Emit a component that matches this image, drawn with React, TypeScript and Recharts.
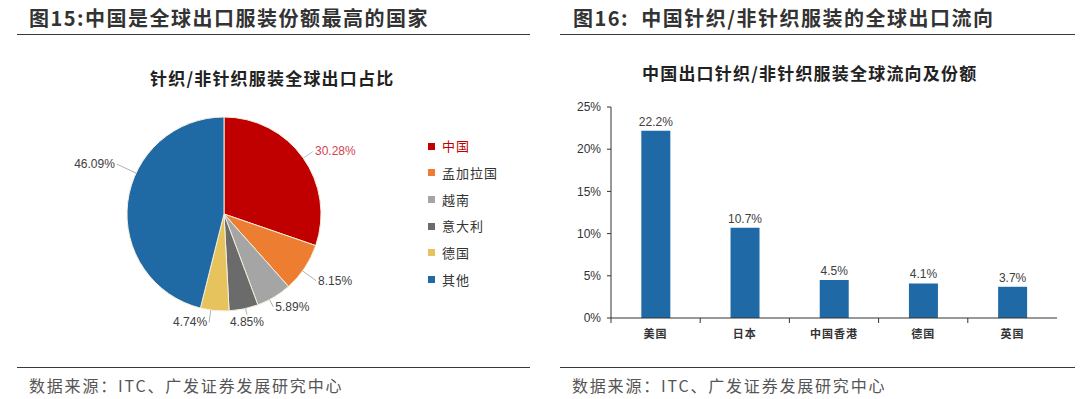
import React from 'react';
import { PieChart, Pie, Cell, BarChart, Bar, XAxis, YAxis, LabelList, Legend } from 'recharts';

// ---------- data ----------
const pieCountries = ['中国', '孟加拉国', '越南', '意大利', '德国', '其他'];
const pieShares = [30.28, 8.15, 5.89, 4.85, 4.74, 46.09];

const barDestinations = ['美国', '日本', '中国香港', '德国', '英国'];
const barShares = [22.2, 10.7, 4.5, 4.1, 3.7];
const yTicks = [0, 5, 10, 15, 20, 25];

const leftTitle = '图15:中国是全球出口服装份额最高的国家';
const rightTitle = '图16:  中国针织/非针织服装的全球出口流向';
const pieSubtitle = '针织/非针织服装全球出口占比';
const barSubtitle = '中国出口针织/非针织服装全球流向及份额';
const sourceNote = '数据来源：ITC、广发证券发展研究中心';

// ---------- styles ----------
const pieColors = ['#c00000', '#ed7d31', '#a5a5a5', '#6b6b6b', '#e6c35c', '#1f6aa5'];
const barColor = '#1f6aa6';
const textDark = '#333333';
const numFont = "'Liberation Sans', Arial, sans-serif";
const cjkFont = "'Noto Sans CJK SC', 'Noto Sans', sans-serif";

// label nudges (dx, dy, anchor) relative to radial position
const labelNudges: [number, number, 'start' | 'middle' | 'end'][] = [
  [-1, 3, 'start'],
  [0, 4, 'start'],
  [-7, -4, 'start'],
  [0, -3, 'middle'],
  [-6, -4, 'end'],
  [3, -36, 'end'],
];

const pieData = pieCountries.map((name, i) => ({ name, value: pieShares[i] }));
const barData = barDestinations.map((name, i) => ({ name, value: barShares[i] }));

const RAD = Math.PI / 180;

function renderPieLabel(props: any) {
  const { cx, cy, midAngle, outerRadius, index, value } = props;
  const r = outerRadius + 16;
  const [dx, dy, anchor] = labelNudges[index];
  const tx = cx + r * Math.cos(-midAngle * RAD) + dx;
  const ty = cy + r * Math.sin(-midAngle * RAD) + dy;
  let ex = tx;
  let ey = ty;
  if (anchor === 'start') ex = tx - 2;
  else if (anchor === 'end') ex = tx + 2;
  else ey = ty - 7;
  const vx = ex - cx;
  const vy = ey - cy;
  const d = Math.sqrt(vx * vx + vy * vy);
  const sx = cx + (vx / d) * outerRadius;
  const sy = cy + (vy / d) * outerRadius;
  const showLine = d - outerRadius > 4;
  return (
    <g>
      {showLine && (
        <line x1={sx} y1={sy} x2={ex} y2={ey} stroke={index === 0 ? '#8fc3d8' : '#9a9a9a'} strokeWidth={0.8} />
      )}
      <text
        x={tx}
        y={ty}
        textAnchor={anchor}
        dominantBaseline="central"
        fontFamily={numFont}
        fontSize={12}
        fill={index === 0 ? '#d0434f' : '#404040'}
      >
        {`${value.toFixed(2)}%`}
      </text>
    </g>
  );
}

function PieLegend() {
  return (
    <div style={{ width: 110 }}>
      {pieData.map((d, i) => (
        <div key={d.name} style={{ height: 26.67, display: 'flex', alignItems: 'center' }}>
          <span style={{ width: 7, height: 7, background: pieColors[i], display: 'inline-block', marginRight: 7 }} />
          <span
            style={{
              fontFamily: cjkFont,
              fontSize: 13,
              letterSpacing: 1,
              color: i === 0 ? '#c00000' : textDark,
              lineHeight: '14px',
            }}
          >
            {d.name}
          </span>
        </div>
      ))}
    </div>
  );
}

function XTick(props: any) {
  const { x, y, payload } = props;
  const half = typeof payload?.offset === 'number' && payload.offset > 0 ? payload.offset : 44.6;
  const axisY = y - 13;
  return (
    <g>
      <line x1={x - half} y1={axisY} x2={x - half} y2={axisY + 5} stroke="#333" strokeWidth={1} />
      <text
        x={x}
        y={y + 2}
        textAnchor="middle"
        dominantBaseline="central"
        fontFamily={cjkFont}
        fontSize={11}
        fontWeight={700}
        letterSpacing={1}
        fill={textDark}
      >
        {payload.value}
      </text>
    </g>
  );
}

const abs = (left: number, top: number, extra: React.CSSProperties = {}): React.CSSProperties => ({
  position: 'absolute',
  left,
  top,
  ...extra,
});

export default function App() {
  const titleStyle: React.CSSProperties = {
    fontFamily: cjkFont,
    fontSize: 20,
    fontWeight: 700,
    letterSpacing: 1.5,
    color: textDark,
    whiteSpace: 'pre',
    lineHeight: '24px',
  };
  const subStyle: React.CSSProperties = {
    fontFamily: cjkFont,
    fontSize: 17,
    fontWeight: 700,
    letterSpacing: 1.2,
    color: '#222',
    whiteSpace: 'pre',
    lineHeight: '20px',
  };
  const srcStyle: React.CSSProperties = {
    fontFamily: cjkFont,
    fontSize: 16,
    color: '#555',
    whiteSpace: 'pre',
    lineHeight: '18px',
    letterSpacing: 1.8,
  };
  const rule = (left: number, top: number, width: number): React.CSSProperties =>
    abs(left, top, { width, height: 1, background: '#3a3a3a' });

  return (
    <div style={abs(0, 0, { width: 1080, height: 399, background: '#ffffff', overflow: 'hidden' })}>
      {/* headers */}
      <div style={abs(29, 6, titleStyle)}>{leftTitle}</div>
      <div style={abs(573, 6, titleStyle)}>{rightTitle}</div>
      <div style={rule(17, 34, 513)} />
      <div style={rule(560, 34, 515)} />

      {/* subtitles */}
      <div style={abs(150, 68, subStyle)}>{pieSubtitle}</div>
      <div style={abs(642, 63, subStyle)}>{barSubtitle}</div>

      {/* pie chart */}
      <div style={abs(0, 0)}>
        <PieChart width={540} height={360} margin={{ top: 0, right: 0, bottom: 0, left: 0 }}>
          <Pie
            data={pieData}
            dataKey="value"
            nameKey="name"
            cx={224}
            cy={214}
            outerRadius={97}
            startAngle={90}
            endAngle={-270}
            stroke="#f4eedc"
            strokeWidth={1}
            isAnimationActive={false}
            label={renderPieLabel}
            labelLine={false}
          >
            {pieData.map((d, i) => (
              <Cell key={d.name} fill={pieColors[i]} />
            ))}
          </Pie>
          <Legend
            content={() => <PieLegend />}
            wrapperStyle={{ position: 'absolute', left: 428, top: 133, width: 110 }}
          />
        </PieChart>
      </div>

      {/* bar chart */}
      <div style={abs(540, 0)}>
        <BarChart
          width={540}
          height={360}
          data={barData}
          margin={{ top: 107, right: 23, left: 0, bottom: 12 }}
          barCategoryGap="34%"
        >
          <XAxis
            dataKey="name"
            type="category"
            axisLine={{ stroke: '#333', strokeWidth: 1 }}
            tickLine={false}
            tickSize={5}
            tickMargin={8}
            height={30}
            tick={<XTick />}
            interval={0}
          />
          <YAxis
            type="number"
            domain={[0, 25]}
            ticks={yTicks}
            interval={0}
            width={71}
            axisLine={{ stroke: '#333', strokeWidth: 1 }}
            tickLine={{ stroke: '#333' }}
            tickSize={4}
            tickMargin={6}
            tickFormatter={(v: number) => `${v}%`}
            tick={{ fontFamily: numFont, fontSize: 12, fill: textDark }}
          />
          <Bar dataKey="value" fill={barColor} isAnimationActive={false}>
            <LabelList
              dataKey="value"
              position="top"
              offset={5}
              formatter={(v: any) => `${v}%`}
              style={{ fontFamily: numFont, fontSize: 12, fill: '#404040' }}
            />
          </Bar>
        </BarChart>
      </div>

      {/* footers */}
      <div style={rule(17, 367, 513)} />
      <div style={rule(560, 367, 515)} />
      <div style={abs(29, 376, srcStyle)}>{sourceNote}</div>
      <div style={abs(572, 376, srcStyle)}>{sourceNote}</div>
    </div>
  );
}
